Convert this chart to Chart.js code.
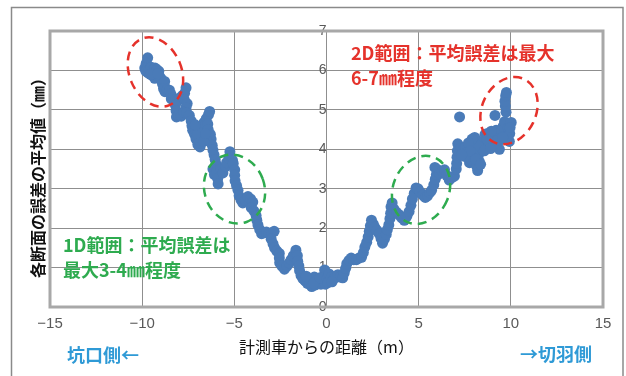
<!DOCTYPE html>
<html><head><meta charset="utf-8">
<script src="https://cdn.jsdelivr.net/npm/chart.js@4.4.0/dist/chart.umd.min.js"></script>
<style>html,body{margin:0;padding:0;background:#fff}#wrap{width:626px;height:376px;position:relative}</style>
</head><body><div id="wrap"><canvas id="c" width="626" height="376"></canvas></div>
<script>
// distance from measurement vehicle (m)
const distanceM = [
-9.70,-9.78,-9.86,-9.80,-9.68,-9.62,-9.51,-9.40,-9.30,-9.20,-9.10,-9.42,-9.32,-9.20,-9.05,-8.96,-8.90,-8.78,-8.84,-8.76,
-8.64,-8.52,-8.44,-8.42,-8.30,-8.18,-8.06,-7.96,-7.82,-7.70,-7.62,-7.72,-7.56,-7.62,-8.20,-8.16,-8.14,-8.02,-7.88,-7.74,
-7.58,-7.44,-7.34,-7.30,-7.26,-7.16,-7.08,-6.98,-6.90,-6.82,-6.76,-6.70,-6.64,-6.52,-6.40,-6.34,-6.44,-6.42,-6.30,-6.26,
-6.54,-6.20,-6.16,-6.10,-6.04,-5.98,-6.16,-6.08,-5.96,-5.90,-5.88,-5.72,-5.62,-5.48,-5.42,-5.30,-5.24,-5.10,-5.06,-4.98,
-4.98,-4.96,-4.88,-4.80,-4.74,-4.64,-4.54,-4.40,-4.26,-4.12,-4.00,-4.08,-3.94,-3.82,-3.78,-3.72,-3.62,-3.52,-3.38,-3.26,
-3.12,-2.98,-2.84,-3.00,-2.90,-2.82,-2.70,-2.56,-2.56,-2.54,-2.42,-2.28,-2.14,-2.02,-1.92,-1.80,-1.66,-1.58,-1.56,-1.50,
-1.46,-1.38,-1.28,-1.16,-1.04,-0.92,-0.80,-0.66,-0.54,-0.42,-0.30,-0.20,-0.12,-0.10,-0.80,-0.60,-0.06,
-9.55,-9.15,-7.00,-6.86,-6.66,-6.56,-7.12,-1.10,-0.70,-0.36,
0.02,0.14,0.26,0.40,0.52,0.62,0.74,0.88,0.96,1.04,1.10,1.22,1.34,1.48,1.62,1.76,1.90,2.00,2.08,2.18,
2.26,2.32,2.38,2.44,2.54,2.62,2.74,2.86,2.96,3.04,3.14,3.24,3.30,3.38,3.44,3.48,3.50,3.56,3.66,3.80,
3.94,4.08,4.22,4.36,4.48,4.58,4.66,4.76,4.86,4.96,5.08,5.22,5.36,5.48,5.60,5.70,5.82,5.90,5.96,6.04,
5.88,6.14,6.28,6.40,6.52,6.66,6.80,6.94,7.04,7.06,7.08,7.10,7.12,7.22,7.28,7.40,7.54,7.62,7.68,7.76,
7.88,8.00,8.04,8.04,8.14,8.20,8.28,8.30,8.40,8.52,8.60,8.74,8.86,9.00,9.10,9.14,9.20,9.30,9.38,9.44,
9.48,9.58,9.66,9.74,9.70,9.68,9.72,9.76,9.86,9.94,10.02,9.92,9.80,8.94,8.70,8.46,8.20,7.90,7.50,
0.08,0.30,7.70,7.80,8.10,8.36,7.34,8.56,8.90,9.26,9.56,9.96
];
// mean error of each cross-section (mm)
const meanErrorMm = [
6.32,6.18,6.06,5.98,5.94,6.02,6.08,6.02,6.06,6.02,5.98,5.86,5.80,5.88,5.84,5.78,5.66,5.72,5.54,5.46,
5.52,5.50,5.40,5.28,5.30,5.26,5.24,5.30,5.36,5.42,5.56,5.26,5.16,5.06,5.12,4.98,4.82,4.86,4.84,4.94,
4.92,4.86,4.72,4.60,4.48,4.38,4.26,4.12,4.20,4.32,4.44,4.56,4.68,4.78,4.88,4.96,4.64,4.50,4.38,4.26,
4.26,4.10,3.98,3.86,3.74,3.62,3.50,3.36,3.44,3.26,3.12,3.50,3.40,3.56,3.66,3.78,3.94,3.72,3.64,3.48,
3.34,3.20,3.08,2.96,2.82,2.72,2.64,2.70,2.80,2.74,2.66,2.52,2.44,2.32,2.20,2.08,1.96,1.86,1.88,1.90,
1.86,1.88,1.92,1.72,1.60,1.50,1.42,1.36,1.24,1.12,1.04,0.96,1.04,1.12,1.20,1.30,1.44,1.30,1.16,1.04,
0.92,0.80,0.72,0.66,0.60,0.58,0.66,0.76,0.68,0.60,0.58,0.68,0.80,0.94,0.52,0.56,0.58,
5.90,5.92,4.40,4.06,4.20,4.40,4.62,0.78,0.60,0.74,
0.72,0.84,0.76,0.72,0.78,0.82,0.76,0.74,0.86,0.98,1.10,1.18,1.24,1.20,1.20,1.24,1.26,1.38,1.52,1.64,
1.78,1.92,2.06,2.20,2.10,2.02,1.94,1.86,1.74,1.62,1.72,1.84,1.96,2.08,2.24,2.38,2.54,2.64,2.48,2.40,
2.34,2.26,2.20,2.30,2.42,2.58,2.74,2.88,3.02,3.00,2.92,2.84,2.78,2.82,2.90,2.96,3.10,3.24,3.36,3.48,
3.54,3.38,3.44,3.48,3.34,3.22,3.28,3.32,3.50,3.64,3.80,3.96,4.14,4.82,4.02,3.98,4.06,3.92,3.80,3.66,
3.72,3.86,4.04,4.30,3.58,3.46,3.70,3.90,4.06,4.22,4.38,4.40,4.30,4.16,4.30,4.86,4.48,4.36,4.00,4.24,
4.48,4.58,4.70,4.94,5.10,5.22,5.36,5.44,4.54,4.40,4.68,4.20,4.32,4.46,4.24,4.00,4.10,4.26,3.82,
0.62,0.64,4.16,3.95,3.75,3.62,3.86,3.96,4.02,4.22,4.30,4.55
];
const xTickValues = [-15, -10, -5, 0, 5, 10, 15];
const yTickValues = [0, 1, 2, 3, 4, 5, 6, 7];

const xTitle = '計測車からの距離（m）';
const yTitle = '各断面の誤差の平均値（㎜）';
const noteRed = ['2D範囲：平均誤差は最大', '6-7㎜程度'];
const noteGreen = ['1D範囲：平均誤差は', '最大3-4㎜程度'];
const leftSide = '坑口側←';
const rightSide = '→切羽側';

// annotation ellipses: centres in data units
const ellipses = [
  {x: -9.28, y: 5.96, rx: 26, ry: 36, rot: -0.40, color: '#e5322b'},
  {x: 9.90, y: 4.98, rx: 27, ry: 35, rot: 0.45, color: '#e5322b'},
  {x: -4.99, y: 2.99, rx: 30, ry: 35, rot: -0.35, color: '#2eab4f'},
  {x: 5.13, y: 2.97, rx: 28, ry: 35, rot: 0.40, color: '#2eab4f'}
];

const points = distanceM.map((x, i) => ({x: x, y: meanErrorMm[i]}));
const CJK = '"Noto Sans CJK JP", "Noto Sans", sans-serif';

const deco = {
  id: 'deco',
  beforeDraw(chart) {
    const ctx = chart.ctx;
    ctx.save();
    ctx.fillStyle = '#fff';
    ctx.fillRect(0, 0, chart.width, chart.height);
    ctx.strokeStyle = '#8a8a8a';
    ctx.lineWidth = 1.5;
    ctx.strokeRect(11.5, 7.5, 611.5, 400);
    ctx.restore();
  },
  beforeDatasetsDraw(chart) {
    const ctx = chart.ctx, a = chart.chartArea;
    ctx.save();
    ctx.strokeStyle = '#a8a8a8';
    ctx.lineWidth = 3;
    ctx.strokeRect(a.left, a.top, a.right - a.left, a.bottom - a.top);
    ctx.restore();
  },
  afterDatasetsDraw(chart) {
    const ctx = chart.ctx, xs = chart.scales.x, ys = chart.scales.y;
    ctx.save();
    ctx.lineWidth = 2.5;
    ctx.setLineDash([9, 6]);
    ellipses.forEach(e => {
      ctx.strokeStyle = e.color;
      ctx.beginPath();
      ctx.ellipse(xs.getPixelForValue(e.x), ys.getPixelForValue(e.y), e.rx, e.ry, e.rot, 0, Math.PI * 2);
      ctx.stroke();
    });
    ctx.setLineDash([]);
    ctx.textBaseline = 'middle';
    ctx.textAlign = 'left';
    ctx.font = 'bold 18px ' + CJK;
    ctx.fillStyle = '#e5322b';
    ctx.fillText(noteRed[0], 351, 53);
    ctx.fillText(noteRed[1], 351, 78);
    ctx.fillStyle = '#2eab4f';
    ctx.fillText(noteGreen[0], 63, 245);
    ctx.fillText(noteGreen[1], 63, 270);
    ctx.fillStyle = '#2f9ad6';
    ctx.fillText(leftSide, 67, 355);
    ctx.textAlign = 'right';
    ctx.fillText(rightSide, 592, 354);
    // axis titles
    ctx.fillStyle = '#111';
    ctx.textAlign = 'center';
    ctx.font = '16px ' + CJK;
    ctx.fillText(xTitle, (chart.chartArea.left + chart.chartArea.right) / 2, 347);
    ctx.save();
    ctx.translate(38, 174);
    ctx.rotate(-Math.PI / 2);
    ctx.font = 'bold 16px ' + CJK;
    ctx.fillText(yTitle, 0, 0);
    ctx.restore();
    ctx.restore();
  }
};

new Chart(document.getElementById('c'), {
  type: 'scatter',
  data: {
    datasets: [{
      data: points,
      pointRadius: 5.5,
      pointHoverRadius: 5.5,
      borderWidth: 0,
      pointBorderWidth: 0,
      backgroundColor: '#4a7bb8'
    }]
  },
  options: {
    responsive: false,
    animation: false,
    devicePixelRatio: 1,
    layout: {padding: {left: 50, right: 23, top: 31, bottom: 35}},
    plugins: {legend: {display: false}, tooltip: {enabled: false}},
    scales: {
      x: {
        type: 'linear',
        min: xTickValues[0], max: xTickValues[xTickValues.length - 1],
        afterBuildTicks: s => { s.ticks = xTickValues.map(v => ({value: v})); },
        grid: {color: '#8f8f8f', lineWidth: 1, drawTicks: false},
        border: {display: false},
        ticks: {
          padding: 8,
          color: '#595959',
          font: {family: '"Liberation Sans", Arial, sans-serif', size: 15},
          callback: v => String(v).replace('-', '\u2212')
        }
      },
      y: {
        type: 'linear',
        position: {x: 0},
        min: yTickValues[0], max: yTickValues[yTickValues.length - 1],
        afterBuildTicks: s => { s.ticks = yTickValues.map(v => ({value: v})); },
        grid: {color: '#8f8f8f', lineWidth: 1, drawTicks: true, tickLength: 10},
        border: {display: false},
        ticks: {
          color: '#595959',
          font: {family: '"Liberation Sans", Arial, sans-serif', size: 14}
        }
      }
    }
  },
  plugins: [deco]
});
</script></body></html>
